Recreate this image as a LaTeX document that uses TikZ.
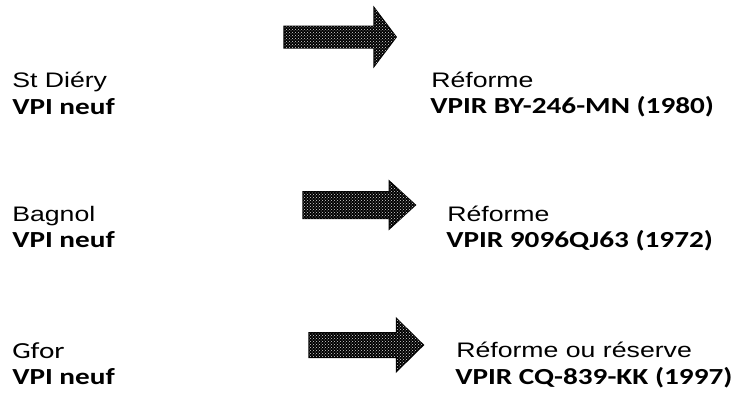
\documentclass[tikz,border=0pt]{standalone}
\usepackage{fontspec}
\setmainfont{Liberation Sans}
\newfontfamily\calibri{Carlito}
\usetikzlibrary{shapes.arrows, patterns}

\tikzset{
  site/.style={anchor=base west, inner sep=0pt, xscale=1.27, transform shape,
    font=\fontsize{21}{24}\selectfont},
  vehicle/.style={anchor=base west, inner sep=0pt, xscale=1.27, transform shape,
    font=\calibri\bfseries\fontsize{23}{26}\selectfont},
  bigarrow/.style={single arrow, draw=black, line width=1.5pt, fill=black, inner xsep=0pt,
    postaction={pattern=crosshatch dots, pattern color=white!85!black}}
}

\begin{document}
\begin{tikzpicture}[x=1pt, y=-1pt]
\useasboundingbox (0,0) rectangle (748,394);

% Left column: where the VPI starts
\node[site] (site1) at (12,87) {St Diéry};
\node[vehicle] (new1) at (12,114) {VPI neuf};
\node[site] (site2) at (12,221) {Bagnol};
\node[vehicle] (new2) at (12,247) {VPI neuf};
\node[site, font=\calibri\fontsize{23}{26}\selectfont] (site3) at (12,358) {Gfor};
\node[vehicle] (new3) at (12,384) {VPI neuf};

% Right column: what becomes of the old one
\node[site] (fate1) at (431,87) {Réforme};
\node[vehicle] (old1) at (430,113) {VPIR BY-246-MN (1980)};
\node[site] (fate2) at (447,221) {Réforme};
\node[vehicle] (old2) at (446,247) {VPIR 9096QJ63 (1972)};
\node[site] (fate3) at (456,357) {Réforme ou réserve};
\node[vehicle] (old3) at (455,384) {VPIR CQ-839-KK (1997)};

% Block arrows
\node[bigarrow, minimum height=112pt, inner ysep=10pt,
  single arrow head extend=18.5pt, single arrow tip angle=106] (arr1) at (336,37) {};
\node[bigarrow, minimum height=112pt, inner ysep=12.5pt,
  single arrow head extend=10.5pt, single arrow tip angle=85] (arr2) at (352,205) {};
\node[bigarrow, minimum height=114pt, inner ysep=11.5pt,
  single arrow head extend=14pt, single arrow tip angle=89] (arr3) at (360,345) {};
\end{tikzpicture}
\end{document}
